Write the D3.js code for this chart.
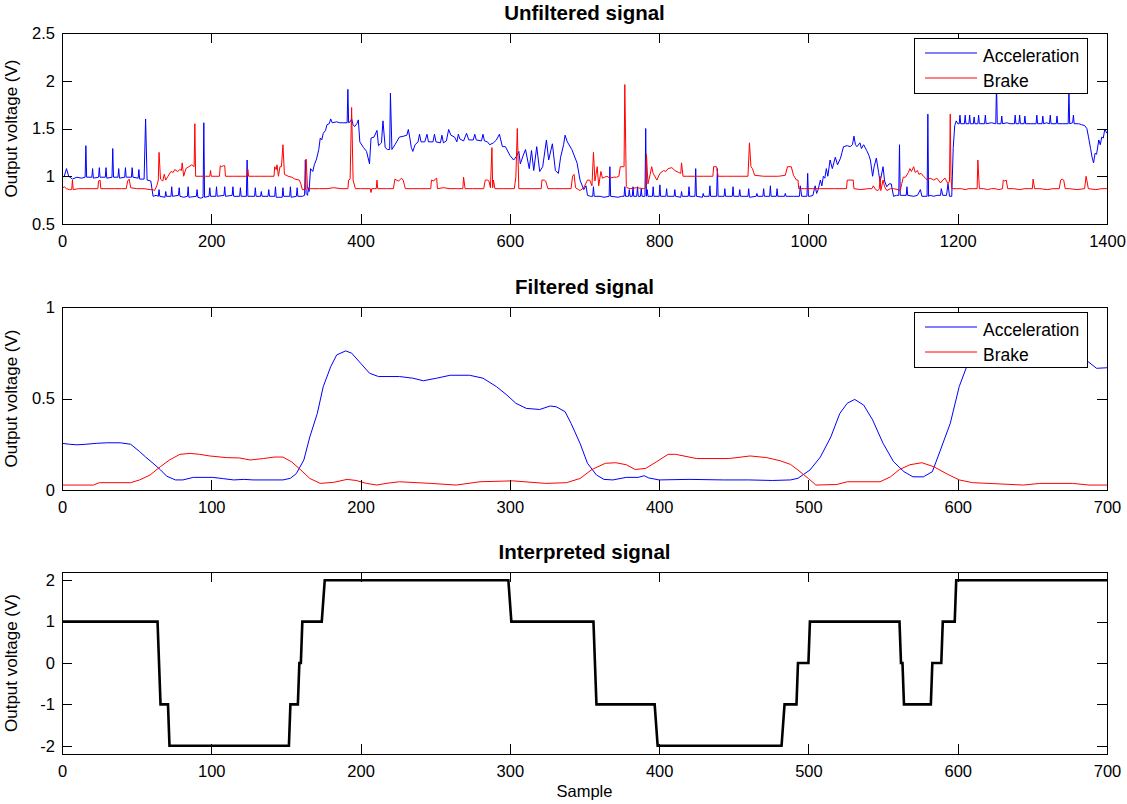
<!DOCTYPE html>
<html>
<head>
<meta charset="utf-8">
<script src="https://cdn.jsdelivr.net/npm/d3@7"></script>
<style>
  html, body { margin: 0; padding: 0; background: #fff; }
  svg { display: block; font-family: "Liberation Sans", Arial, Helvetica, sans-serif; }
  .tick text { font-size: 16.5px; fill: #000; }
  .tick line { stroke: #000; }
</style>
</head>
<body>
<svg id="chart" width="1127" height="804"></svg>
<script>
// ---- Unfiltered pedal signals, [sample, volts] ----
const accelRaw = [
[0,0.99],[3,1.0],[6,1.08],[9,1.0],[14,0.97],[20,0.99],[26,0.98],
[31,0.99],[32,1.32],[33,0.99],[40,0.99],[41,1.08],[42,0.98],[49,0.99],[50,1.09],[51,0.99],
[58,0.99],[59,1.09],[60,0.98],[67,0.99],[68,1.29],[69,0.99],[75,0.99],[76,1.08],[77,0.98],
[84,0.99],[85,1.09],[86,0.99],[93,0.99],[94,1.09],[95,0.99],[102,0.98],[103,1.07],[104,0.97],
[110,0.97],[112,1.60],[114,0.96],[119,0.95],
[122,0.79],[126,0.80],[129,0.79],[130,0.86],[131,0.79],[138,0.78],[139,0.84],[140,0.79],[146,0.79],[147,0.89],[148,0.79],
[156,0.80],[157,0.88],[158,0.79],[163,0.78],[168,0.79],[169,0.89],[170,0.78],[180,0.79],[181,0.86],[182,0.78],[186,0.77],
[189,0.78],[190,1.56],[191,0.78],[197,0.79],[198,0.88],[199,0.79],[206,0.79],[207,0.89],[208,0.79],[217,0.80],[218,0.89],[219,0.79],
[228,0.80],[229,0.89],[230,0.79],[238,0.79],[239,0.88],[240,0.79],[247,0.79],[248,1.17],[249,0.79],
[258,0.79],[259,0.88],[260,0.79],[266,0.79],[267,0.84],[268,0.79],[276,0.79],[277,0.86],[278,0.79],[285,0.79],[286,0.89],[287,0.78],
[295,0.78],[296,0.88],[297,0.79],[305,0.79],[306,0.89],[307,0.78],[314,0.79],[315,0.88],[316,0.79],[322,0.79],
[325,0.80],[326,1.17],[327,0.82],[329,0.80],[330,0.88],[331,0.84],[333,1.08],[336,1.05],[338,1.12],[341,1.18],[344,1.28],[346,1.40],
[348,1.38],[350,1.45],[353,1.48],[355,1.54],[358,1.55],[360,1.60],[362,1.56],[368,1.57],[372,1.56],[376,1.56],[382,1.56],[383,1.91],[384,1.56],
[386,1.57],[388,1.60],[390,1.54],[392,1.52],[395,1.55],[397,1.59],[399,1.36],[404,1.30],[408,1.26],[412,1.13],[414,1.40],[418,1.41],
[422,1.48],[424,1.32],[428,1.35],[430,1.58],[433,1.30],[436,1.28],[439,1.28],[440,1.87],[442,1.28],[446,1.33],[452,1.41],[458,1.42],
[462,1.43],[464,1.49],[466,1.40],[468,1.30],[470,1.26],[473,1.33],[477,1.36],[479,1.44],[481,1.36],[486,1.36],[489,1.44],[491,1.36],
[497,1.36],[499,1.44],[501,1.36],[507,1.35],[509,1.43],[511,1.35],[515,1.37],[518,1.49],[521,1.43],[526,1.41],[529,1.36],[531,1.44],
[533,1.39],[538,1.37],[542,1.45],[545,1.38],[551,1.38],[553,1.44],[555,1.38],[562,1.37],[564,1.44],[566,1.37],[570,1.36],[573,1.33],
[578,1.35],[582,1.38],[586,1.44],[590,1.31],[594,1.31],[600,1.22],[605,1.17],[609,1.21],[612,1.26],[614,1.13],[618,1.22],[621,1.28],
[626,1.08],[629,1.27],[632,1.06],[636,1.31],[640,1.05],[644,1.10],[649,1.38],[652,1.17],[657,1.34],[661,1.06],[665,1.03],[668,1.20],
[672,1.33],[674,1.43],[677,1.36],[683,1.28],[690,1.14],[694,0.96],[699,0.86],[702,0.90],[704,0.80],[708,0.79],[711,0.79],[712,0.89],
[713,0.79],[721,0.79],[726,0.78],[733,0.79],[734,1.10],[735,0.79],[745,0.78],[750,0.79],
[753,0.79],[754,0.89],[755,0.79],[759,0.79],[760,0.86],[761,0.79],[764,0.79],[765,0.89],[766,0.79],[770,0.79],[771,0.89],[772,0.79],
[775,0.79],[776,0.87],[777,0.79],[781,0.79],[782,1.50],[783,0.79],[784,0.86],[785,0.79],
[791,0.79],[792,0.89],[793,0.79],[800,0.79],[801,0.91],[802,0.79],[809,0.79],[810,0.87],[811,0.79],[820,0.79],[821,0.86],[822,0.79],
[829,0.78],[830,0.84],[831,0.79],[839,0.79],[840,0.89],[841,0.79],[848,0.79],[849,1.08],[850,0.79],[858,0.78],[859,0.82],[860,0.79],
[867,0.79],[868,0.90],[869,0.79],[877,0.79],[878,1.08],[879,0.79],[887,0.79],[888,0.87],[889,0.79],[898,0.79],[899,0.89],[900,0.79],
[907,0.79],[908,0.86],[909,0.79],[919,0.79],[920,0.87],[921,0.78],[930,0.79],[931,0.82],[932,0.79],[939,0.79],[940,0.87],[941,0.79],
[948,0.79],[949,0.90],[950,0.79],[957,0.79],[958,0.87],[959,0.79],[968,0.79],[969,0.82],[970,0.79],[980,0.79],
[988,0.79],[989,0.90],[991,0.79],[998,0.79],[999,1.03],[1000,0.79],[1002,0.79],[1006,0.80],[1009,0.90],[1011,0.82],[1013,0.86],
[1016,0.96],[1018,0.90],[1020,1.00],[1022,0.98],[1024,1.08],[1026,1.00],[1029,1.17],[1032,1.08],[1036,1.20],[1039,1.12],[1043,1.19],
[1045,1.25],[1047,1.31],[1052,1.32],[1056,1.31],[1059,1.33],[1061,1.42],[1063,1.33],[1065,1.31],[1069,1.35],[1071,1.29],[1074,1.33],
[1078,1.27],[1081,1.22],[1083,1.17],[1086,1.00],[1088,1.10],[1091,1.19],[1094,1.04],[1096,0.94],[1100,1.10],[1102,0.95],[1105,0.89],
[1108,0.92],[1111,0.92],[1114,0.79],[1118,0.80],[1121,0.80],[1122,1.33],[1123,0.80],[1125,0.80],[1131,0.80],[1132,0.89],[1133,0.80],
[1141,0.79],[1146,0.80],[1150,0.86],[1152,0.79],[1159,0.79],[1160,1.65],[1161,0.79],[1163,0.80],[1168,0.79],[1172,0.80],[1177,0.80],
[1178,0.87],[1180,0.80],[1185,0.80],[1187,0.92],[1189,0.79],[1192,0.79],[1194,1.30],[1196,1.53],[1198,1.58],[1200,1.55],
[1202,1.55],[1203,1.64],[1204,1.55],[1209,1.55],[1210,1.64],[1211,1.55],[1215,1.55],[1216,1.64],[1217,1.55],[1221,1.55],[1222,1.62],
[1223,1.55],[1227,1.55],[1228,1.64],[1229,1.55],[1236,1.55],[1237,1.64],[1238,1.55],[1245,1.56],[1251,1.55],[1252,1.98],[1253,1.55],
[1258,1.55],[1259,1.63],[1260,1.55],[1266,1.56],[1270,1.55],[1276,1.55],[1277,1.64],[1278,1.55],[1282,1.55],[1283,1.64],[1284,1.55],
[1289,1.55],[1290,1.63],[1291,1.55],[1298,1.55],[1305,1.55],[1306,1.64],[1307,1.55],[1313,1.55],[1314,1.63],[1315,1.55],[1319,1.56],
[1323,1.55],[1324,1.64],[1325,1.55],[1332,1.55],[1333,1.63],[1334,1.55],[1340,1.55],[1348,1.55],[1349,1.90],[1350,1.55],[1354,1.56],
[1355,1.64],[1356,1.55],[1362,1.55],[1366,1.54],[1370,1.53],[1373,1.50],[1375,1.42],[1378,1.29],[1380,1.20],[1382,1.14],[1384,1.24],
[1386,1.23],[1389,1.38],[1391,1.33],[1393,1.41],[1395,1.40],[1397,1.49],[1400,1.45]
];

const brakeRaw = [
[0,0.87],[3,0.89],[6,0.87],[10,0.86],[13,0.86],[14,0.96],[15,0.86],[22,0.87],[30,0.87],[40,0.87],[48,0.87],[49,0.95],[51,0.96],[52,0.87],
[60,0.87],[70,0.87],[80,0.87],[86,0.87],[88,0.95],[90,0.97],[92,0.88],[100,0.87],[110,0.87],[118,0.86],[122,0.86],[124,0.85],[127,0.90],
[129,0.96],[130,1.25],[132,0.97],[135,0.95],[137,1.02],[139,0.96],[142,1.00],[146,1.05],[149,1.04],[151,1.07],[155,1.05],[158,1.07],
[160,1.06],[161,1.14],[163,1.00],[166,1.08],[170,1.10],[174,1.12],[177,1.10],[178,1.55],[179,1.00],[185,1.00],[192,1.00],[198,1.00],
[199,1.06],[200,1.00],[211,1.00],[212,1.11],[214,1.10],[216,1.11],[218,1.11],[219,1.00],[230,1.00],[240,1.00],[248,1.00],[249,1.07],
[250,1.00],[258,1.00],[265,1.00],[275,1.00],[284,1.00],[285,1.10],[287,1.07],[288,1.12],[290,1.00],[292,1.10],[294,1.10],[296,1.33],
[298,1.02],[303,1.00],[308,0.99],[312,0.97],[318,0.96],[320,0.92],[322,0.86],[326,0.86],[327,1.18],[329,0.87],[335,0.87],[345,0.87],
[355,0.87],[364,0.88],[374,0.87],[383,0.87],[384,0.96],[386,0.97],[388,1.72],[390,0.96],[393,0.87],[400,0.87],[410,0.87],[413,0.87],
[414,0.83],[415,0.87],[421,0.87],[422,0.96],[423,0.87],[435,0.87],[444,0.87],[446,0.97],[448,0.96],[451,0.95],[455,0.98],[457,0.96],
[459,0.90],[460,0.87],[470,0.87],[480,0.87],[494,0.87],[495,0.96],[498,0.95],[500,0.97],[502,0.98],[503,0.87],[511,0.88],[520,0.87],
[530,0.87],[537,0.87],[538,0.99],[540,0.87],[550,0.87],[565,0.87],[567,0.96],[570,0.96],[572,0.95],[574,0.88],[576,1.30],[577,0.88],
[578,0.96],[580,0.87],[590,0.87],[600,0.87],[606,0.87],[608,0.99],[610,1.50],[612,0.87],[620,0.87],[630,0.87],[642,0.87],[643,0.96],
[646,0.96],[648,0.95],[651,0.87],[660,0.87],[670,0.87],[682,0.87],[684,1.00],[686,1.02],[688,0.88],[692,0.86],[694,0.85],[699,0.88],
[704,0.96],[707,0.96],[710,0.90],[712,1.25],[714,0.95],[717,1.10],[719,0.90],[722,1.05],[724,0.98],[727,0.99],[730,1.00],[734,0.98],
[739,0.99],[743,0.99],[746,1.00],[748,1.10],[752,1.10],[753,1.10],[754,1.96],[756,0.89],[757,0.88],[761,0.87],[770,0.88],[779,0.87],
[782,0.88],[783,1.23],[785,0.92],[788,1.02],[790,1.10],[792,1.03],[797,0.96],[801,1.03],[806,1.06],[809,1.05],[812,1.08],[817,1.09],
[821,1.06],[826,1.04],[829,1.03],[830,1.14],[832,1.00],[840,1.00],[850,1.00],[860,1.00],[872,1.00],[873,1.10],[877,1.10],[879,1.00],
[890,1.00],[900,1.00],[910,1.00],[919,1.00],[921,1.35],[923,1.10],[925,1.08],[928,1.01],[940,1.00],[950,1.00],[960,1.00],[969,1.01],
[972,1.10],[977,1.10],[980,1.01],[984,0.96],[986,0.96],[987,0.87],[995,0.87],[1005,0.87],[1015,0.87],[1025,0.87],[1035,0.87],
[1045,0.87],[1051,0.87],[1052,0.96],[1060,0.96],[1061,0.87],[1070,0.86],[1080,0.87],[1085,0.87],[1087,0.90],[1090,0.86],[1093,0.85],
[1095,0.87],[1096,1.00],[1097,0.85],[1100,0.96],[1102,0.89],[1105,0.85],[1110,0.87],[1114,0.87],[1120,0.86],[1123,0.85],[1125,0.92],
[1127,0.99],[1130,0.99],[1134,1.04],[1136,1.08],[1138,1.05],[1141,1.10],[1143,1.04],[1146,1.06],[1148,1.02],[1151,1.03],[1154,1.00],
[1157,0.98],[1159,0.96],[1163,0.98],[1168,0.96],[1172,0.98],[1175,0.95],[1177,0.93],[1180,0.96],[1183,0.98],[1185,0.95],[1187,0.92],
[1189,0.95],[1190,1.65],[1191,1.00],[1192,0.87],[1198,0.87],[1205,0.87],[1210,0.86],[1215,0.87],[1220,0.87],[1226,0.87],[1227,1.17],
[1229,0.87],[1235,0.87],[1240,0.86],[1245,0.87],[1250,0.87],[1255,0.86],[1260,0.87],[1261,0.96],[1263,0.95],[1265,0.96],[1267,0.87],
[1275,0.87],[1283,0.86],[1290,0.87],[1300,0.87],[1301,0.97],[1303,0.87],[1310,0.87],[1320,0.86],[1328,0.87],[1336,0.87],[1338,0.96],
[1340,0.97],[1342,0.96],[1344,0.87],[1350,0.87],[1360,0.86],[1370,0.87],[1372,1.00],[1375,0.87],[1385,0.86],[1393,0.87],[1400,0.87]
];

// ---- Filtered pedal signals, [sample, volts] ----
const accelFilt = [
[0,0.255],[5,0.25],[10,0.247],[16,0.25],[23,0.255],[30,0.258],[39,0.258],[46,0.25],[52,0.21],[56,0.18],[61,0.146],[66,0.11],
[70,0.076],[76,0.055],[81,0.055],[88,0.069],[101,0.069],[108,0.062],[115,0.055],[122,0.058],[128,0.055],[140,0.055],[148,0.055],
[153,0.064],[157,0.09],[162,0.164],[166,0.29],[171,0.418],[175,0.565],[180,0.674],[184,0.738],[190,0.76],[194,0.748],[200,0.693],
[206,0.638],[212,0.62],[226,0.62],[235,0.611],[242,0.597],[251,0.611],[260,0.627],[273,0.627],[282,0.611],[291,0.565],[298,0.519],
[304,0.474],[311,0.446],[320,0.44],[327,0.459],[331,0.455],[337,0.428],[341,0.364],[347,0.255],[352,0.146],[358,0.082],[363,0.058],
[369,0.055],[378,0.069],[386,0.069],[390,0.078],[393,0.066],[400,0.055],[420,0.058],[443,0.055],[460,0.055],[476,0.052],[488,0.055],
[493,0.064],[501,0.109],[508,0.18],[515,0.29],[521,0.418],[526,0.474],[531,0.495],[537,0.464],[543,0.383],[550,0.255],[557,0.155],
[564,0.1],[570,0.072],[577,0.072],[583,0.1],[588,0.209],[595,0.364],[601,0.565],[606,0.674],[612,0.73],[620,0.755],[640,0.765],
[660,0.755],[678,0.73],[686,0.71],[693,0.665],[700,0.668]
];

const brakeFilt = [
[0,0.027],[10,0.027],[21,0.027],[25,0.04],[46,0.04],[52,0.055],[59,0.082],[66,0.128],[72,0.164],[79,0.195],[86,0.2],[92,0.195],
[99,0.186],[110,0.177],[119,0.175],[126,0.164],[135,0.172],[142,0.18],[148,0.18],[154,0.153],[160,0.109],[166,0.063],[173,0.036],
[182,0.042],[191,0.058],[197,0.052],[204,0.036],[211,0.027],[217,0.036],[226,0.045],[247,0.036],[264,0.027],[280,0.045],[302,0.05],
[324,0.036],[338,0.04],[347,0.063],[355,0.112],[364,0.146],[371,0.149],[378,0.138],[384,0.112],[391,0.118],[398,0.153],[406,0.195],
[411,0.195],[425,0.172],[447,0.172],[461,0.186],[472,0.177],[481,0.16],[488,0.14],[493,0.109],[500,0.063],[505,0.027],[519,0.03],
[526,0.045],[548,0.045],[555,0.072],[561,0.112],[568,0.138],[576,0.149],[584,0.127],[593,0.087],[601,0.055],[610,0.04],[621,0.036],
[644,0.027],[655,0.036],[677,0.036],[688,0.027],[700,0.027]
];

// ---- Interpreted command level, [sample, level] ----
const interpreted = [
[0,1],[64,1],[66,-1],[71,-1],[72,-2],[152,-2],[153,-1],[158,-1],[159,0],[160,0],[161,1],[174,1],[176,2],[299,2],[301,1],
[356,1],[358,-1],[397,-1],[399,-2],[482,-2],[484,-1],[492,-1],[493,0],[500,0],[501,1],[561,1],[562,0],[563,0],[564,-1],
[582,-1],[583,0],[589,0],[590,1],[598,1],[599,2],[700,2]
];

// ---- Axis ticks and labels ----
const xTicksLong = [0, 200, 400, 600, 800, 1000, 1200, 1400];
const xTicksShort = [0, 100, 200, 300, 400, 500, 600, 700];
const yTicksRaw = [0.5, 1, 1.5, 2, 2.5];
const yTicksFilt = [0, 0.5, 1];
const yTicksInterp = [-2, -1, 0, 1, 2];
const seriesNames = ["Acceleration", "Brake"];
const titles = ["Unfiltered signal", "Filtered signal", "Interpreted signal"];
const yLabel = "Output voltage (V)";
const xLabel = "Sample";

const svg = d3.select("#chart");
const left = 62, right = 1107;

const panels = [
  { title: titles[0], top: 33, bottom: 224, xMax: 1400, xTicks: xTicksLong,
    yDomain: [0.5, 2.5], yTicks: yTicksRaw,
    series: [{ data: accelRaw, color: "#0000ff", width: 1 }, { data: brakeRaw, color: "#ff0000", width: 1 }],
    legend: true },
  { title: titles[1], top: 307, bottom: 490, xMax: 700, xTicks: xTicksShort,
    yDomain: [0, 1], yTicks: yTicksFilt,
    series: [{ data: accelFilt, color: "#0000ff", width: 1 }, { data: brakeFilt, color: "#ff0000", width: 1 }],
    legend: true },
  { title: titles[2], top: 572, bottom: 754, xMax: 700, xTicks: xTicksShort,
    yDomain: [-2.2, 2.2], yTicks: yTicksInterp,
    series: [{ data: interpreted, color: "#000000", width: 2.6 }],
    legend: false, xLabel: true }
];

const fmt = d => String(d);

panels.forEach((p, i) => {
  const x = d3.scaleLinear().domain([0, p.xMax]).range([left, right]);
  const y = d3.scaleLinear().domain(p.yDomain).range([p.bottom, p.top]);
  const g = svg.append("g");

  const clipId = "clip" + i;
  svg.append("clipPath").attr("id", clipId)
    .append("rect").attr("x", left).attr("y", p.top)
    .attr("width", right - left).attr("height", p.bottom - p.top);

  const line = d3.line().x(d => x(d[0])).y(d => y(d[1]));
  const lines = g.append("g").attr("clip-path", `url(#${clipId})`);
  p.series.forEach(s => {
    lines.append("path").datum(s.data)
      .attr("d", line)
      .attr("fill", "none")
      .attr("stroke", s.color)
      .attr("stroke-width", s.width)
      .attr("stroke-linejoin", "miter");
  });

  // Inward ticks on all four sides, labels on bottom and left only
  const tick = 10;
  const ax = [
    g.append("g").attr("transform", `translate(0,${p.bottom})`)
      .call(d3.axisBottom(x).tickValues(p.xTicks).tickFormat(fmt).tickSize(-tick).tickPadding(11)),
    g.append("g").attr("transform", `translate(0,${p.top})`)
      .call(d3.axisTop(x).tickValues(p.xTicks).tickFormat("").tickSize(-tick)),
    g.append("g").attr("transform", `translate(${left},0)`)
      .call(d3.axisLeft(y).tickValues(p.yTicks).tickFormat(fmt).tickSize(-tick).tickPadding(7)),
    g.append("g").attr("transform", `translate(${right},0)`)
      .call(d3.axisRight(y).tickValues(p.yTicks).tickFormat("").tickSize(-tick))
  ];
  ax.forEach(a => {
    a.select(".domain").remove();
    a.attr("font-family", null).attr("font-size", null);
    a.selectAll(".tick line").attr("shape-rendering", "crispEdges");
  });

  g.append("rect")
    .attr("x", left).attr("y", p.top)
    .attr("width", right - left).attr("height", p.bottom - p.top)
    .attr("fill", "none").attr("stroke", "#000").attr("stroke-width", 1)
    .attr("shape-rendering", "crispEdges");

  g.append("text")
    .attr("x", (left + right) / 2).attr("y", p.top - 13)
    .attr("text-anchor", "middle")
    .attr("font-size", 20.5).attr("font-weight", "bold")
    .text(p.title);

  g.append("text")
    .attr("transform", `translate(17,${(p.top + p.bottom) / 2}) rotate(-90)`)
    .attr("text-anchor", "middle")
    .attr("font-size", 17)
    .text(yLabel);

  if (p.xLabel) {
    g.append("text")
      .attr("x", (left + right) / 2).attr("y", 797)
      .attr("text-anchor", "middle")
      .attr("font-size", 16.5)
      .text(xLabel);
  }

  if (p.legend) {
    const lg = g.append("g").attr("transform", `translate(914,${p.top + 5})`);
    lg.append("rect").attr("width", 173).attr("height", 55)
      .attr("fill", "#fff").attr("stroke", "#000").attr("stroke-width", 1)
      .attr("shape-rendering", "crispEdges");
    p.series.forEach((s, k) => {
      const yy = 15 + k * 25;
      lg.append("line").attr("x1", 11).attr("x2", 63).attr("y1", yy).attr("y2", yy)
        .attr("stroke", s.color).attr("stroke-width", 1);
      lg.append("text").attr("x", 69).attr("y", yy + 8.5)
        .attr("font-size", 17.5).text(seriesNames[k]);
    });
  }
});
</script>
</body>
</html>
